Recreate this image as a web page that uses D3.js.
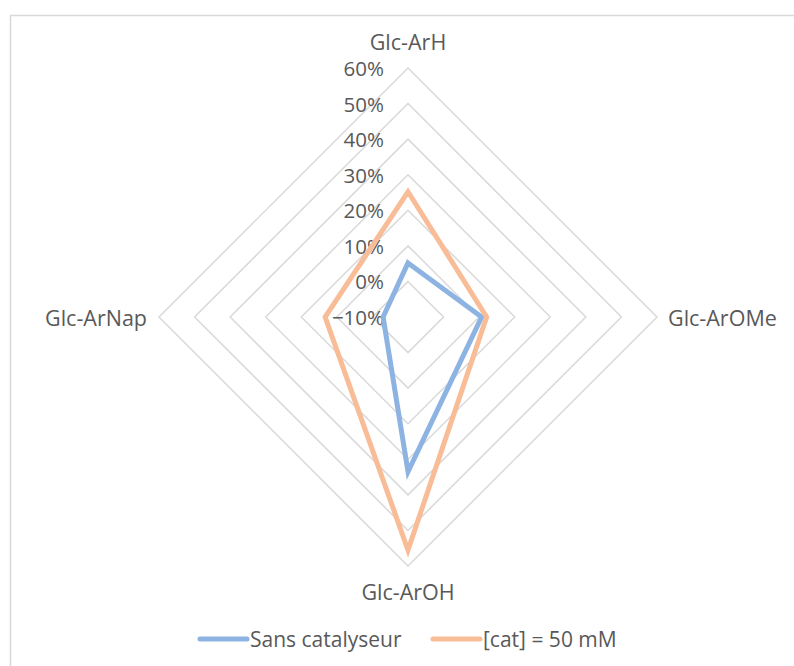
<!DOCTYPE html>
<html>
<head>
<meta charset="utf-8">
<script src="https://cdn.jsdelivr.net/npm/d3@7"></script>
<style>
  html, body { margin: 0; padding: 0; background: #fff; }
  svg { display: block; }
  text { font-family: "Open Sans", "Noto Sans", sans-serif; fill: #595959; }
</style>
</head>
<body>
<svg id="chart" width="794" height="666"></svg>
<script>
const categories = ["Glc-ArH", "Glc-ArOMe", "Glc-ArOH", "Glc-ArNap"];
const seriesNames = ["Sans catalyseur", "[cat] = 50 mM"];
const sansCatalyseur = [0.052, 0.107, 0.335, -0.03];
const cat50 = [0.252, 0.121, 0.555, 0.133];
const tickValues = [-0.1, 0, 0.1, 0.2, 0.3, 0.4, 0.5, 0.6];
const colors = ["#8db3e2", "#f8bc96"];

(function () {
const svg = d3.select("#chart");
const cx = 408, cy = 317, R = 249;

// chart border
svg.append("rect").attr("x", 10.5).attr("y", 15.5).attr("width", 800).attr("height", 700)
  .attr("fill", "#fff").attr("stroke", "#d9d9d9").attr("stroke-width", 1.5);

const r = d3.scaleLinear().domain([tickValues[0], tickValues[tickValues.length - 1]]).range([0, R]);
const angle = d3.scalePoint().domain(categories).range([0, 2 * Math.PI * (categories.length - 1) / categories.length]);
const pt = (cat, v) => {
  const a = angle(cat);
  return [cx + r(v) * Math.sin(a), cy - r(v) * Math.cos(a)];
};

const g = svg.append("g");

// grid rings
const lineGen = d3.line();
tickValues.slice(1).forEach(t => {
  const pts = categories.map(c => pt(c, t));
  g.append("path").attr("d", lineGen(pts) + "Z")
    .attr("fill", "none").attr("stroke", "#d9d9d9").attr("stroke-width", 1.5);
});

// tick labels
const fmt = d3.format(".0%");
tickValues.forEach(t => {
  g.append("text").attr("x", cx - 24).attr("y", cy - r(t))
    .attr("text-anchor", "end").attr("dominant-baseline", "central")
    .attr("font-size", 20.5).text(fmt(t));
});

// series
const series = [sansCatalyseur, cat50];
series.forEach((vals, i) => {
  const pts = categories.map((c, j) => pt(c, vals[j]));
  g.append("path").attr("d", lineGen(pts) + "Z")
    .attr("fill", "none").attr("stroke", colors[i]).attr("stroke-width", 5)
    .attr("stroke-linejoin", "miter");
});

// category labels
const maxVal = tickValues[tickValues.length - 1];
categories.forEach(c => {
  const [x, y] = pt(c, maxVal);
  const a = angle(c);
  let tx = x, ty = y, anchor = "middle";
  if (Math.abs(a) < 0.01) { ty = y - 27; }
  else if (Math.abs(a - Math.PI) < 0.01) { ty = y + 25; }
  else if (Math.abs(a - Math.PI / 2) < 0.01) { tx = x + 11; anchor = "start"; }
  else { tx = x - 12; anchor = "end"; }
  g.append("text").attr("x", tx).attr("y", ty)
    .attr("text-anchor", anchor).attr("dominant-baseline", "central")
    .attr("font-size", 21.5).text(c);
});

// legend
const legendX = [200, 433];
seriesNames.forEach((name, i) => {
  const lg = svg.append("g").attr("transform", `translate(${legendX[i]},639)`);
  lg.append("line").attr("x1", 0).attr("x2", 47).attr("y1", 0).attr("y2", 0)
    .attr("stroke", colors[i]).attr("stroke-width", 5).attr("stroke-linecap", "round");
  lg.append("text").attr("x", 50).attr("y", 0).attr("dominant-baseline", "central")
    .attr("font-size", 21).text(name);
});
})();
</script>
</body>
</html>
